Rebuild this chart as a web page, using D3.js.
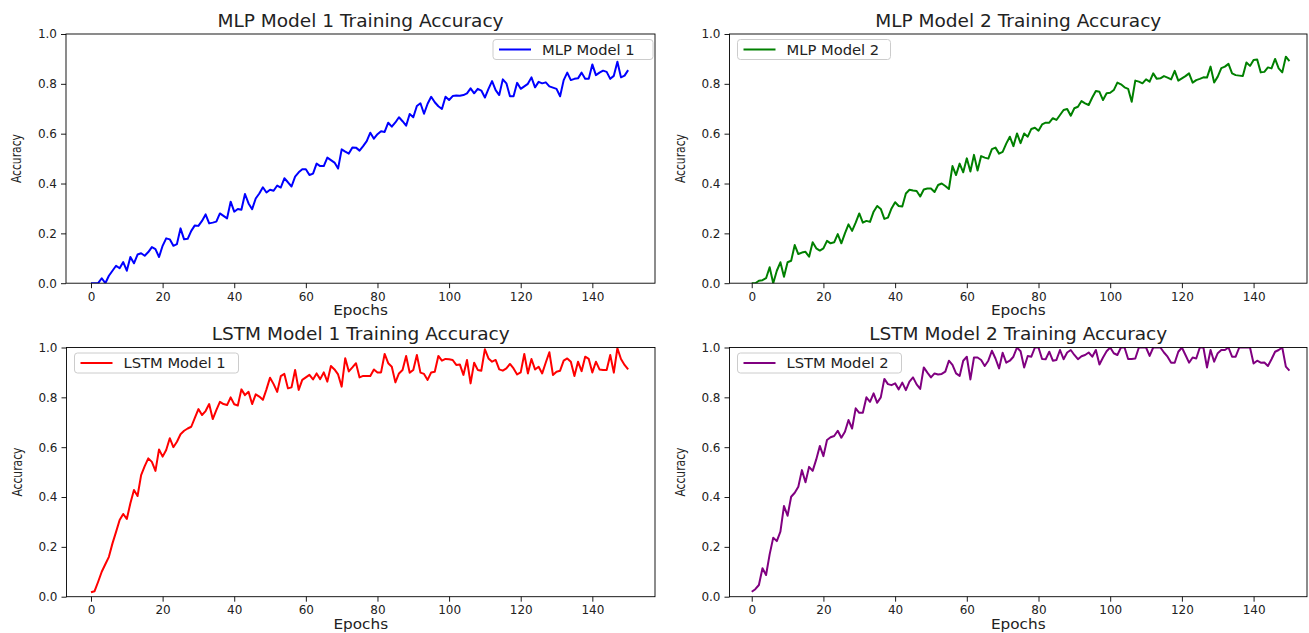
<!DOCTYPE html>
<html>
<head>
<meta charset="utf-8">
<script src="https://cdn.jsdelivr.net/npm/d3@7"></script>
<style>
  body { margin: 0; background: #fff; }
  svg { display: block; font-family: "DejaVu Sans", sans-serif; }
</style>
</head>
<body>
<div id="app"></div>
<script>
// epochs 0..150
var epochs = d3.range(0, 151);
var xTicks = [0, 20, 40, 60, 80, 100, 120, 140];
var yTicks = [0, 0.2, 0.4, 0.6, 0.8, 1.0];

var titles = ['MLP Model 1 Training Accuracy', 'MLP Model 2 Training Accuracy',
  'LSTM Model 1 Training Accuracy', 'LSTM Model 2 Training Accuracy'];
var seriesNames = ['MLP Model 1', 'MLP Model 2', 'LSTM Model 1', 'LSTM Model 2'];
var seriesColors = ['#0000ff', '#008000', '#ff0000', '#800080'];

var mlp1 = [0.0, 0.0, 0.0, 0.02, 0.0, 0.03, 0.05, 0.07, 0.06, 0.085,
  0.05, 0.105, 0.08, 0.115, 0.12, 0.11, 0.125, 0.145, 0.137, 0.105,
  0.15, 0.18, 0.176, 0.15, 0.157, 0.22, 0.176, 0.178, 0.21, 0.232,
  0.23, 0.25, 0.276, 0.24, 0.243, 0.247, 0.28, 0.27, 0.26, 0.327,
  0.287, 0.298, 0.295, 0.358, 0.32, 0.297, 0.34, 0.36, 0.385, 0.364,
  0.375, 0.371, 0.392, 0.384, 0.421, 0.405, 0.388, 0.428, 0.445, 0.457,
  0.457, 0.434, 0.44, 0.48, 0.47, 0.47, 0.504, 0.494, 0.484, 0.46,
  0.537, 0.528, 0.52, 0.545, 0.544, 0.532, 0.55, 0.57, 0.604, 0.58,
  0.598, 0.61, 0.607, 0.644, 0.628, 0.645, 0.666, 0.65, 0.632, 0.679,
  0.666, 0.711, 0.722, 0.68, 0.72, 0.748, 0.726, 0.71, 0.699, 0.748,
  0.735, 0.751, 0.753, 0.752, 0.755, 0.762, 0.782, 0.762, 0.78, 0.773,
  0.745, 0.78, 0.811, 0.775, 0.755, 0.818, 0.802, 0.75, 0.75, 0.804,
  0.78, 0.79, 0.8, 0.826, 0.786, 0.808, 0.802, 0.806, 0.79, 0.785,
  0.78, 0.75, 0.815, 0.845, 0.815, 0.82, 0.822, 0.845, 0.82, 0.82,
  0.878, 0.835, 0.845, 0.853, 0.848, 0.82, 0.832, 0.889, 0.826, 0.833,
  0.855];

var mlp2 = [0.0, 0.0, 0.01, 0.012, 0.02, 0.064, 0.0, 0.05, 0.084, 0.026,
  0.084, 0.09, 0.153, 0.117, 0.123, 0.126, 0.106, 0.164, 0.14, 0.131,
  0.14, 0.17, 0.16, 0.164, 0.197, 0.16, 0.2, 0.236, 0.21, 0.243,
  0.28, 0.243, 0.25, 0.246, 0.287, 0.31, 0.298, 0.258, 0.263, 0.3,
  0.325, 0.31, 0.308, 0.36, 0.375, 0.372, 0.37, 0.348, 0.376, 0.38,
  0.38, 0.366, 0.394, 0.4, 0.39, 0.378, 0.47, 0.434, 0.48, 0.445,
  0.501, 0.448, 0.515, 0.452, 0.51, 0.504, 0.5, 0.538, 0.544, 0.52,
  0.527, 0.56, 0.588, 0.55, 0.601, 0.562, 0.601, 0.588, 0.619, 0.624,
  0.612, 0.637, 0.644, 0.644, 0.662, 0.655, 0.675, 0.695, 0.699, 0.672,
  0.702, 0.708, 0.731, 0.722, 0.715, 0.745, 0.771, 0.768, 0.735, 0.762,
  0.764, 0.775, 0.805, 0.798, 0.786, 0.78, 0.728, 0.813, 0.809, 0.802,
  0.818, 0.809, 0.842, 0.82, 0.822, 0.831, 0.825, 0.818, 0.852, 0.813,
  0.822, 0.831, 0.842, 0.805, 0.815, 0.82, 0.826, 0.825, 0.869, 0.805,
  0.829, 0.863, 0.869, 0.88, 0.842, 0.835, 0.833, 0.831, 0.886, 0.872,
  0.896, 0.898, 0.846, 0.848, 0.866, 0.862, 0.9, 0.862, 0.846, 0.909,
  0.891];

var lstm1 = [0.018, 0.022, 0.06, 0.1, 0.13, 0.16, 0.214, 0.26, 0.308, 0.332,
  0.312, 0.375, 0.428, 0.404, 0.488, 0.524, 0.555, 0.541, 0.505, 0.591,
  0.562, 0.589, 0.636, 0.6, 0.622, 0.652, 0.666, 0.675, 0.682, 0.718,
  0.753, 0.729, 0.745, 0.773, 0.713, 0.749, 0.782, 0.773, 0.769, 0.8,
  0.772, 0.767, 0.832, 0.809, 0.822, 0.773, 0.812, 0.803, 0.79, 0.832,
  0.879, 0.853, 0.822, 0.885, 0.894, 0.836, 0.84, 0.91, 0.83, 0.87,
  0.88, 0.89, 0.872, 0.896, 0.873, 0.9, 0.863, 0.926, 0.912, 0.892,
  0.843, 0.957, 0.904, 0.92, 0.937, 0.88, 0.886, 0.886, 0.886, 0.912,
  0.9, 0.9, 0.974, 0.937, 0.923, 0.86, 0.896, 0.91, 0.966, 0.899,
  0.91, 0.97, 0.899, 0.894, 0.87, 0.9, 0.903, 0.966, 0.947, 0.954,
  0.953, 0.95, 0.93, 0.932, 0.89, 0.95, 0.856, 0.939, 0.91, 0.907,
  0.993, 0.956, 0.943, 0.95, 0.912, 0.907, 0.916, 0.934, 0.916, 0.892,
  0.9, 0.974, 0.896, 0.954, 0.912, 0.923, 0.896, 0.94, 0.981, 0.89,
  0.903, 0.907, 0.947, 0.956, 0.943, 0.886, 0.943, 0.905, 0.963, 0.954,
  0.9, 0.943, 0.912, 0.91, 0.91, 0.97, 0.899, 0.997, 0.954, 0.93,
  0.912];

var lstm2 = [0.02, 0.03, 0.047, 0.114, 0.087, 0.17, 0.237, 0.223, 0.261, 0.364,
  0.325, 0.401, 0.417, 0.441, 0.508, 0.459, 0.521, 0.505, 0.551, 0.605,
  0.564, 0.629, 0.64, 0.645, 0.666, 0.638, 0.662, 0.709, 0.675, 0.756,
  0.738, 0.738, 0.8, 0.782, 0.816, 0.778, 0.8, 0.874, 0.853, 0.849,
  0.856, 0.832, 0.859, 0.829, 0.863, 0.88, 0.852, 0.834, 0.92, 0.899,
  0.88, 0.896, 0.892, 0.894, 0.903, 0.947, 0.93, 0.896, 0.886, 0.947,
  0.963, 0.872, 0.96, 0.96, 0.95, 0.926, 0.947, 0.987, 0.956, 0.916,
  0.979, 0.939, 0.947, 0.963, 1.0, 0.985, 0.92, 0.966, 0.963, 1.0,
  1.0, 0.954, 0.953, 0.983, 0.947, 0.95, 0.99, 0.953, 0.98, 0.99,
  0.97, 0.953, 0.965, 0.97, 0.98, 0.963, 0.99, 0.932, 0.96, 0.985,
  1.0, 0.977, 0.97, 1.0, 1.0, 0.954, 0.954, 0.956, 1.0, 1.0,
  1.0, 0.966, 1.0, 1.0, 1.0, 0.98, 0.963, 0.939, 0.939, 0.983,
  1.0, 0.97, 0.939, 0.96, 0.956, 1.0, 1.0, 0.92, 0.99, 0.943,
  0.977, 0.99, 0.99, 1.0, 0.963, 0.963, 1.0, 1.0, 1.0, 1.0,
  0.936, 0.947, 0.939, 0.94, 0.926, 0.953, 0.983, 0.99, 1.0, 0.923,
  0.907];

var series = [mlp1, mlp2, lstm1, lstm2];

var panels = [
  { left: 66, right: 655, top: 34, bottom: 283.2, xd: [-6.98, 157.5], legend: 'right' },
  { left: 729.5, right: 1307, top: 34, bottom: 283.2, xd: [-6.2, 154.9], legend: 'left' },
  { left: 66.5, right: 655, top: 347.5, bottom: 596.7, xd: [-6.84, 157.5], legend: 'left' },
  { left: 729.5, right: 1307, top: 347.5, bottom: 596.7, xd: [-6.2, 154.9], legend: 'left' }
];

var W = 1309, H = 633;
var stretch = 1.09; // the reference picture is a bit wider than tall

var svg = d3.select('#app').append('svg')
  .attr('width', W)
  .attr('height', H);

function widen(sel) {
  sel.each(function() {
    var len = this.getComputedTextLength();
    d3.select(this).attr('textLength', len * stretch)
      .attr('lengthAdjust', 'spacingAndGlyphs');
  });
}

panels.forEach(function(p, i) {
  var x = d3.scaleLinear().domain(p.xd).range([p.left, p.right]);
  var y = d3.scaleLinear().domain([0, 1]).range([p.bottom, p.top]);
  var g = svg.append('g');

  g.append('clipPath').attr('id', 'clip' + i)
    .append('rect')
    .attr('x', p.left).attr('y', p.top)
    .attr('width', p.right - p.left).attr('height', p.bottom - p.top);

  var line = d3.line()
    .x(function(d, j) { return x(epochs[j]); })
    .y(function(d) { return y(d); });

  g.append('path')
    .datum(series[i])
    .attr('clip-path', 'url(#clip' + i + ')')
    .attr('fill', 'none')
    .attr('stroke', seriesColors[i])
    .attr('stroke-width', 2)
    .attr('stroke-linejoin', 'round')
    .attr('d', line);

  // axes
  var xAxis = d3.axisBottom(x).tickValues(xTicks).tickSize(5).tickPadding(4)
    .tickFormat(d3.format('d'));
  var yAxis = d3.axisLeft(y).tickValues(yTicks).tickSize(5).tickPadding(4)
    .tickFormat(d3.format('.1f'));

  var gx = g.append('g').attr('transform', 'translate(0,' + p.bottom + ')').call(xAxis);
  var gy = g.append('g').attr('transform', 'translate(' + p.left + ',0)').call(yAxis);
  [gx, gy].forEach(function(a) {
    a.select('.domain').remove();
    a.selectAll('.tick line').attr('stroke', '#000').attr('stroke-width', 0.9);
    a.selectAll('.tick text').attr('fill', '#222').style('font-size', '12px')
      .style('font-family', '"DejaVu Sans", sans-serif');
  });

  // frame
  g.append('rect')
    .attr('x', p.left).attr('y', p.top)
    .attr('width', p.right - p.left).attr('height', p.bottom - p.top)
    .attr('fill', 'none').attr('stroke', '#000').attr('stroke-width', 0.9);

  var cx = (p.left + p.right) / 2;
  g.append('text')
    .attr('x', cx).attr('y', p.top - 7.5)
    .attr('text-anchor', 'middle')
    .style('font-size', '17px').attr('fill', '#222')
    .text(titles[i])
    .call(widen);

  g.append('text')
    .attr('x', cx).attr('y', p.bottom + 32)
    .attr('text-anchor', 'middle')
    .style('font-size', '14px').attr('fill', '#222')
    .text('Epochs')
    .call(widen);

  g.append('text')
    .attr('transform', 'translate(' + (p.left - 45) + ',' + ((p.top + p.bottom) / 2) + ') rotate(-90) scale(0.74,1)')
    .attr('text-anchor', 'middle')
    .style('font-size', '14.5px').attr('fill', '#222')
    .text('Accuracy');

  // legend
  var lw = i === 0 ? 160 : (i === 1 ? 153 : 164);
  var lx = p.legend === 'right' ? p.right - 2 - lw : p.left + 8;
  var ly = p.top + 5.5;
  var lg = g.append('g').attr('transform', 'translate(' + lx + ',' + ly + ')');
  lg.append('rect')
    .attr('width', lw).attr('height', 20).attr('rx', 3)
    .attr('fill', '#fff').attr('fill-opacity', 0.8)
    .attr('stroke', '#ccc').attr('stroke-width', 1);
  lg.append('line')
    .attr('x1', 6).attr('x2', 38).attr('y1', 10).attr('y2', 10)
    .attr('stroke', seriesColors[i]).attr('stroke-width', 2);
  lg.append('text')
    .attr('x', 49).attr('y', 15)
    .style('font-size', '13.5px').attr('fill', '#222')
    .text(seriesNames[i])
    .call(widen);
});
</script>
</body>
</html>
